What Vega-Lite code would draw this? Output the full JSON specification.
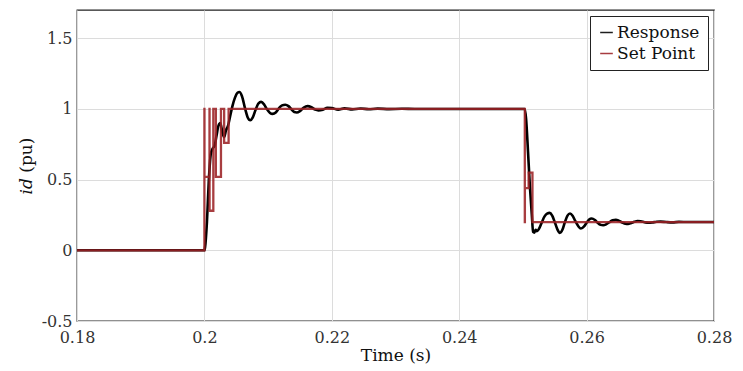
{
  "$schema": "https://vega.github.io/schema/vega-lite/v6.json",
  "width": 637,
  "height": 311,
  "autosize": {"type": "none"},
  "padding": {"left": 77, "top": 10, "right": 29, "bottom": 50},
  "background": "white",
  "config": {
    "view": {"stroke": "#222222", "strokeWidth": 1.3},
    "font": "DejaVu Serif",
    "axis": {
      "labelFont": "DejaVu Serif",
      "labelFontSize": 16,
      "labelColor": "#333333",
      "titleFont": "DejaVu Serif",
      "titleFontSize": 17,
      "titleFontWeight": "normal",
      "titleColor": "#111111",
      "grid": true,
      "gridColor": "#dcdcdc",
      "gridWidth": 1,
      "domain": false,
      "ticks": false,
      "labelFlush": false,
      "labelOverlap": false
    },
    "legend": {
      "labelFont": "DejaVu Serif",
      "labelFontSize": 17,
      "labelColor": "#111111"
    }
  },
  "datasets": {
    "resp": [
      {"series": "Response", "t": 0.18, "v": 0},
      {"series": "Response", "t": 0.2, "v": 0},
      {"series": "Response", "t": 0.2001, "v": 0.02},
      {"series": "Response", "t": 0.2004, "v": 0.2},
      {"series": "Response", "t": 0.2007, "v": 0.5},
      {"series": "Response", "t": 0.201, "v": 0.68},
      {"series": "Response", "t": 0.2013, "v": 0.72},
      {"series": "Response", "t": 0.2016, "v": 0.74},
      {"series": "Response", "t": 0.2019, "v": 0.81},
      {"series": "Response", "t": 0.2022, "v": 0.88},
      {"series": "Response", "t": 0.2025, "v": 0.9},
      {"series": "Response", "t": 0.2028, "v": 0.84},
      {"series": "Response", "t": 0.2031, "v": 0.8},
      {"series": "Response", "t": 0.2034, "v": 0.85},
      {"series": "Response", "t": 0.2037, "v": 0.88},
      {"series": "Response", "t": 0.204, "v": 0.94},
      {"series": "Response", "t": 0.2044, "v": 1.02},
      {"series": "Response", "t": 0.2048, "v": 1.08},
      {"series": "Response", "t": 0.2052, "v": 1.115},
      {"series": "Response", "t": 0.2055, "v": 1.12},
      {"series": "Response", "t": 0.2059, "v": 1.09},
      {"series": "Response", "t": 0.2064, "v": 1.0},
      {"series": "Response", "t": 0.2068, "v": 0.94},
      {"series": "Response", "t": 0.2072, "v": 0.92},
      {"series": "Response", "t": 0.2076, "v": 0.94},
      {"series": "Response", "t": 0.208, "v": 0.99},
      {"series": "Response", "t": 0.2085, "v": 1.04},
      {"series": "Response", "t": 0.2089, "v": 1.05},
      {"series": "Response", "t": 0.2094, "v": 1.03},
      {"series": "Response", "t": 0.2098, "v": 1.0},
      {"series": "Response", "t": 0.2103, "v": 0.972},
      {"series": "Response", "t": 0.2107, "v": 0.965},
      {"series": "Response", "t": 0.2112, "v": 0.975},
      {"series": "Response", "t": 0.2117, "v": 1.005},
      {"series": "Response", "t": 0.2122, "v": 1.025},
      {"series": "Response", "t": 0.2127, "v": 1.03},
      {"series": "Response", "t": 0.2132, "v": 1.02},
      {"series": "Response", "t": 0.2137, "v": 0.995},
      {"series": "Response", "t": 0.2141, "v": 0.978},
      {"series": "Response", "t": 0.2145, "v": 0.975},
      {"series": "Response", "t": 0.215, "v": 0.985},
      {"series": "Response", "t": 0.2156, "v": 1.01},
      {"series": "Response", "t": 0.2162, "v": 1.02},
      {"series": "Response", "t": 0.2168, "v": 1.012},
      {"series": "Response", "t": 0.2174, "v": 0.995},
      {"series": "Response", "t": 0.2179, "v": 0.99},
      {"series": "Response", "t": 0.2186, "v": 0.995},
      {"series": "Response", "t": 0.2193, "v": 1.008},
      {"series": "Response", "t": 0.22, "v": 1.006},
      {"series": "Response", "t": 0.221, "v": 0.995},
      {"series": "Response", "t": 0.222, "v": 1.004},
      {"series": "Response", "t": 0.2232, "v": 0.997},
      {"series": "Response", "t": 0.2245, "v": 1.003},
      {"series": "Response", "t": 0.2258, "v": 0.998},
      {"series": "Response", "t": 0.2272, "v": 1.002},
      {"series": "Response", "t": 0.229, "v": 0.999},
      {"series": "Response", "t": 0.231, "v": 1.001},
      {"series": "Response", "t": 0.233, "v": 1.0},
      {"series": "Response", "t": 0.2503, "v": 1.0},
      {"series": "Response", "t": 0.2505, "v": 0.93},
      {"series": "Response", "t": 0.2508, "v": 0.7},
      {"series": "Response", "t": 0.2511, "v": 0.45},
      {"series": "Response", "t": 0.2514, "v": 0.25},
      {"series": "Response", "t": 0.2516, "v": 0.13},
      {"series": "Response", "t": 0.2518, "v": 0.125},
      {"series": "Response", "t": 0.252, "v": 0.145},
      {"series": "Response", "t": 0.2522, "v": 0.135},
      {"series": "Response", "t": 0.2525, "v": 0.15},
      {"series": "Response", "t": 0.2529, "v": 0.19},
      {"series": "Response", "t": 0.2534, "v": 0.24},
      {"series": "Response", "t": 0.2538, "v": 0.26},
      {"series": "Response", "t": 0.2542, "v": 0.265},
      {"series": "Response", "t": 0.2546, "v": 0.245},
      {"series": "Response", "t": 0.255, "v": 0.2},
      {"series": "Response", "t": 0.2554, "v": 0.15},
      {"series": "Response", "t": 0.2558, "v": 0.123},
      {"series": "Response", "t": 0.2562, "v": 0.145},
      {"series": "Response", "t": 0.2566, "v": 0.2},
      {"series": "Response", "t": 0.257, "v": 0.245},
      {"series": "Response", "t": 0.2574, "v": 0.26},
      {"series": "Response", "t": 0.2578, "v": 0.245},
      {"series": "Response", "t": 0.2582, "v": 0.21},
      {"series": "Response", "t": 0.2587, "v": 0.17},
      {"series": "Response", "t": 0.2591, "v": 0.154},
      {"series": "Response", "t": 0.2596, "v": 0.17},
      {"series": "Response", "t": 0.26, "v": 0.195},
      {"series": "Response", "t": 0.2604, "v": 0.218},
      {"series": "Response", "t": 0.2608, "v": 0.225},
      {"series": "Response", "t": 0.2613, "v": 0.215},
      {"series": "Response", "t": 0.2617, "v": 0.197},
      {"series": "Response", "t": 0.2622, "v": 0.18},
      {"series": "Response", "t": 0.2626, "v": 0.177},
      {"series": "Response", "t": 0.2631, "v": 0.185},
      {"series": "Response", "t": 0.2636, "v": 0.2},
      {"series": "Response", "t": 0.2641, "v": 0.212},
      {"series": "Response", "t": 0.2646, "v": 0.216},
      {"series": "Response", "t": 0.2651, "v": 0.208},
      {"series": "Response", "t": 0.2656, "v": 0.197},
      {"series": "Response", "t": 0.2661, "v": 0.188},
      {"series": "Response", "t": 0.2665, "v": 0.186},
      {"series": "Response", "t": 0.267, "v": 0.193},
      {"series": "Response", "t": 0.2675, "v": 0.202},
      {"series": "Response", "t": 0.268, "v": 0.207},
      {"series": "Response", "t": 0.2685, "v": 0.205},
      {"series": "Response", "t": 0.2691, "v": 0.199},
      {"series": "Response", "t": 0.2697, "v": 0.195},
      {"series": "Response", "t": 0.2703, "v": 0.197},
      {"series": "Response", "t": 0.271, "v": 0.202},
      {"series": "Response", "t": 0.2716, "v": 0.203},
      {"series": "Response", "t": 0.2725, "v": 0.2},
      {"series": "Response", "t": 0.2735, "v": 0.198},
      {"series": "Response", "t": 0.2745, "v": 0.201},
      {"series": "Response", "t": 0.276, "v": 0.2},
      {"series": "Response", "t": 0.28, "v": 0.2}
    ],
    "sp": [
      {"series": "Set Point", "t": 0.18, "v": 0},
      {"series": "Set Point", "t": 0.2, "v": 1},
      {"series": "Set Point", "t": 0.20001, "v": 0.52},
      {"series": "Set Point", "t": 0.2008, "v": 1},
      {"series": "Set Point", "t": 0.20081, "v": 0.28},
      {"series": "Set Point", "t": 0.2014, "v": 1},
      {"series": "Set Point", "t": 0.2018, "v": 0.52},
      {"series": "Set Point", "t": 0.2026, "v": 1},
      {"series": "Set Point", "t": 0.2031, "v": 0.76},
      {"series": "Set Point", "t": 0.2038, "v": 1},
      {"series": "Set Point", "t": 0.2503, "v": 0.2},
      {"series": "Set Point", "t": 0.25031, "v": 0.44},
      {"series": "Set Point", "t": 0.2509, "v": 0.55},
      {"series": "Set Point", "t": 0.2515, "v": 0.2},
      {"series": "Set Point", "t": 0.28, "v": 0.2}
    ]
  },
  "encoding": {
    "x": {
      "field": "t",
      "type": "quantitative",
      "scale": {"domain": [0.18, 0.28], "nice": false, "zero": false},
      "axis": {
        "values": [0.18, 0.2, 0.22, 0.24, 0.26, 0.28],
        "format": "~g",
        "title": "Time (s)",
        "labelPadding": 8,
        "titlePadding": 2
      }
    },
    "y": {
      "field": "v",
      "type": "quantitative",
      "scale": {"domain": [-0.5, 1.7], "nice": false, "zero": false},
      "axis": {
        "values": [-0.5, 0, 0.5, 1, 1.5],
        "format": "~g",
        "labelExpr": "replace(datum.label, '−', '-')",
        "title": "𝑖𝑑 (pu)",
        "labelPadding": 5,
        "titlePadding": 6
      }
    },
    "color": {
      "field": "series",
      "type": "nominal",
      "scale": {"domain": ["Response", "Set Point"], "range": ["#000000", "#9c2226"]},
      "legend": {
        "title": null,
        "orient": "top-right",
        "offset": 6,
        "fillColor": "white",
        "strokeColor": "#222222",
        "padding": 8,
        "symbolType": "stroke",
        "symbolSize": 160,
        "symbolStrokeWidth": 1.5,
        "labelOffset": 2,
        "rowPadding": 3
      }
    }
  },
  "layer": [
    {
      "data": {"name": "resp"},
      "mark": {"type": "line", "strokeWidth": 2.6, "interpolate": "monotone", "clip": true}
    },
    {
      "data": {"name": "sp"},
      "mark": {"type": "line", "strokeWidth": 2.3, "interpolate": "step-after", "opacity": 0.88, "clip": true}
    }
  ]
}
